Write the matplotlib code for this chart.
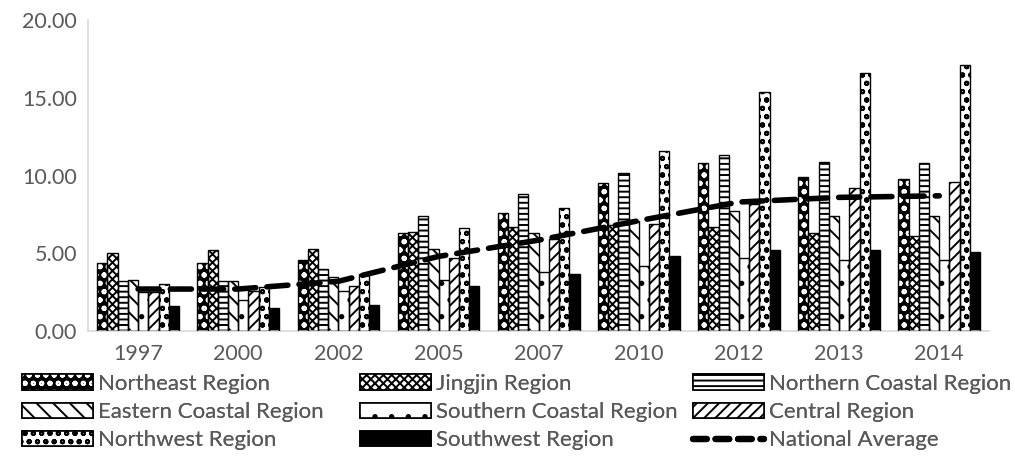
import numpy as np
import matplotlib
matplotlib.use('Agg')
import matplotlib.pyplot as plt
from matplotlib.patches import Patch
from matplotlib.lines import Line2D
from matplotlib.legend_handler import HandlerTuple

years = ['1997', '2000', '2002', '2005', '2007', '2010', '2012', '2013', '2014']

regions = ['Northeast Region', 'Jingjin Region', 'Northern Coastal Region',
           'Eastern Coastal Region', 'Southern Coastal Region', 'Central Region',
           'Northwest Region', 'Southwest Region']

northeast = [4.4, 4.4, 4.6, 6.3, 7.6, 9.5, 10.8, 9.9, 9.8]
jingjin = [5.0, 5.2, 5.3, 6.4, 6.7, 6.8, 6.7, 6.3, 6.1]
northern_coastal = [3.2, 3.2, 4.0, 7.4, 8.8, 10.2, 11.3, 10.9, 10.8]
eastern_coastal = [3.3, 3.2, 3.5, 5.3, 6.3, 7.1, 7.7, 7.4, 7.4]
southern_coastal = [2.5, 2.0, 2.6, 3.3, 3.8, 4.2, 4.7, 4.6, 4.6]
central = [2.5, 2.6, 2.9, 4.7, 5.9, 6.9, 8.2, 9.2, 9.6]
northwest = [3.0, 2.8, 3.7, 6.6, 7.9, 11.6, 15.4, 16.6, 17.1]
southwest = [1.6, 1.5, 1.7, 2.9, 3.7, 4.8, 5.2, 5.2, 5.1]
national_avg = [2.7, 2.7, 3.2, 4.8, 5.85, 7.1, 8.3, 8.6, 8.7]

series = [northeast, jingjin, northern_coastal, eastern_coastal,
          southern_coastal, central, northwest, southwest]

# (face, hatch colour, hatch)  -- hatch density: 1 char = 6 lines per inch
styles = [
    ['black', 'white', 'oo'],
    ['white', 'black', 'xxxx'],
    ['white', 'black', '---'],
    ['white', 'black', '\\\\'],
    ['white', 'black', '.'],
    ['white', 'black', '///'],
    ['white', 'black', 'oo'],
    ['black', 'black', None],
]

textColor = '#595959'
tickSize = 15.5
legendSize = 16
barWidth = 0.102

plt.rcParams.update({'font.family': ['Lato', 'DejaVu Sans'],
                     'hatch.linewidth': 1.4})

fig = plt.figure(figsize=(10.15, 4.57), dpi=100)
ax = fig.add_axes([0.0867, 0.2757, 0.888, 0.680])

x = np.arange(len(years))
handles = []
for i, (vals, st) in enumerate(zip(series, styles)):
    pos = x + (i - 3.5) * barWidth
    ax.bar(pos, vals, width=barWidth, color=st[0], edgecolor=st[1],
           hatch=st[2], linewidth=0, zorder=2)
    ax.bar(pos, vals, width=barWidth, fill=False, edgecolor='black',
           linewidth=1.0, zorder=3)
    h1 = Patch(facecolor=st[0], edgecolor=st[1], hatch=st[2], linewidth=0)
    h2 = Patch(fill=False, edgecolor='black', linewidth=1.2)
    handles.append((h1, h2))

ax.plot(x, national_avg, color='black', linewidth=4, dashes=(3.8, 2.0),
        dash_capstyle='round', zorder=4)
lineHandle = Line2D([], [], color='black', linewidth=4.5, dashes=(2.2, 1.4),
                    dash_capstyle='round')

ax.set_xlim(-0.5, len(years) - 0.5)
ax.set_ylim(0, 20)
ax.set_yticks([0, 5, 10, 15, 20])
ax.set_yticklabels(['%.2f' % v for v in [0, 5, 10, 15, 20]])
ax.set_xticks(x)
ax.set_xticklabels(years)
ax.tick_params(axis='both', length=0, colors=textColor, labelsize=tickSize)
ax.tick_params(axis='y', pad=8)
ax.tick_params(axis='x', pad=9)
for s in ['top', 'right']:
    ax.spines[s].set_visible(False)
for s in ['left', 'bottom']:
    ax.spines[s].set_color('#d9d9d9')
    ax.spines[s].set_linewidth(1.2)

# legend: three columns placed separately, rows read across
labels = regions + ['National Average']
allHandles = handles + [lineHandle]
columns = [[0, 3, 6], [1, 4, 7], [2, 5, 8]]
colX = [22, 360, 693]
for cx, idx in zip(colX, columns):
    leg = fig.legend([allHandles[k] for k in idx], [labels[k] for k in idx],
                     loc='upper left', bbox_to_anchor=(cx / 1015, 1 - 374 / 457),
                     frameon=False, handlelength=3.2, handleheight=0.7,
                     handletextpad=0.24, labelspacing=0.37,
                     borderaxespad=0, borderpad=0,
                     handler_map={tuple: HandlerTuple(ndivide=1, pad=0)},
                     prop={'size': legendSize})
    for t in leg.get_texts():
        t.set_color(textColor)
    fig.add_artist(leg)

fig.savefig('out.png', dpi=100)
